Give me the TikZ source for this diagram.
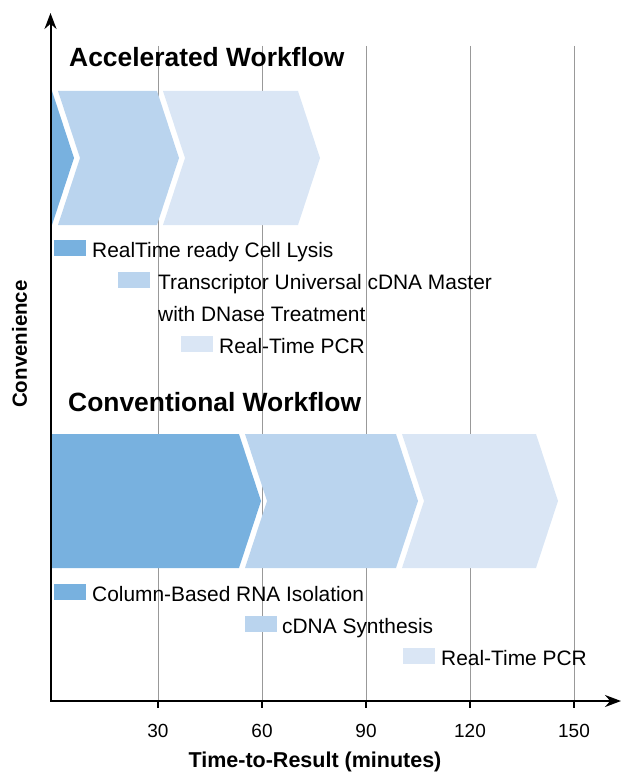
\documentclass[tikz,border=0pt]{standalone}
\usepackage{fontspec}
\setmainfont{Liberation Sans}
\usetikzlibrary{arrows.meta,positioning}
\definecolor{lysis}{RGB}{120,177,223}
\definecolor{cdna}{RGB}{186,212,238}
\definecolor{pcr}{RGB}{218,230,245}
\tikzset{
  grid/.style={draw=black!40, line width=0.9pt},
  axis/.style={line width=2pt, {Stealth[length=16pt,width=12pt]}-{Stealth[length=16pt,width=12pt]}},
  legbox/.style={anchor=north west, minimum width=32pt, minimum height=16pt, inner sep=0pt},
  legtext/.style={anchor=base west, inner sep=0pt, font=\fontsize{20.9}{25}\selectfont},
  heading/.style={anchor=base west, inner sep=0pt, font=\fontsize{26.4}{31}\selectfont\bfseries},
  axislabel/.style={inner sep=0pt, font=\fontsize{21.5}{26}\selectfont\bfseries}
}
% colour, left x, notch depth, right x, top y
\newcommand{\wfstep}[5]{\fill[#1] (#2,#5) -- (#4,#5) -- (#4+22,#5+67) -- (#4,#5+134) -- (#2,#5+134) -- (#2+#3,#5+67) -- cycle;}
\begin{document}
\begin{tikzpicture}[x=1pt, y=-1pt]
  \useasboundingbox (0,0) rectangle (623,773);

  \foreach \x/\t in {158/30, 262/60, 366/90, 470/120, 574/150}{
    \draw[grid] (\x,46) -- (\x,701);
    \draw[line width=1.2pt] (\x,701) -- (\x,708);
    \node[anchor=base, inner sep=0pt, font=\fontsize{19}{22}\selectfont] (tick\t) at (\x,737) {\t};
  }

  \node[heading] (acc) at (69,66.5) {Accelerated Workflow};
  \wfstep{lysis}{52}{0}{52}{91}
  \wfstep{cdna}{58}{22}{157}{91}
  \wfstep{pcr}{163}{22}{298}{91}

  \node[legbox, fill=lysis] (acc1) at (54,240) {};
  \node[legtext] (acc1t) at (92,257) {RealTime ready Cell Lysis};
  \node[legbox, fill=cdna] (acc2) at (118,272) {};
  \node[legtext] (acc2t) at (158,289.5) {Transcriptor Universal cDNA Master};
  \node[legtext] (acc2u) at ([yshift=-32pt]acc2t.base west) {with DNase Treatment};
  \node[legbox, fill=pcr] (acc3) at (181,336) {};
  \node[legtext] (acc3t) at (219,353.5) {Real-Time PCR};

  \node[heading] (conv) at (68,411.5) {Conventional Workflow};
  \wfstep{lysis}{52}{0}{239}{434}
  \wfstep{cdna}{245}{22}{396}{434}
  \wfstep{pcr}{402}{22}{536}{434}

  \node[legbox, fill=lysis] (conv1) at (54,584) {};
  \node[legtext] (conv1t) at (92,601.5) {Column-Based RNA Isolation};
  \node[legbox, fill=cdna] (conv2) at (245,616) {};
  \node[legtext] (conv2t) at (282,633.5) {cDNA Synthesis};
  \node[legbox, fill=pcr] (conv3) at (403,648) {};
  \node[legtext] (conv3t) at (441,665.5) {Real-Time PCR};

  \coordinate (origin) at (50.5,701);
  \coordinate (ytop) at (50.5,13);
  \coordinate (xend) at (621,701);
  \draw[axis] (ytop) |- (xend);

  \node[axislabel, anchor=base] (xlab) at (315,767.5) {Time-to-Result (minutes)};
  \node[axislabel, anchor=base, rotate=90, font=\fontsize{20.5}{24}\selectfont\bfseries] (ylab) at (27,344) {Convenience};
\end{tikzpicture}
\end{document}
